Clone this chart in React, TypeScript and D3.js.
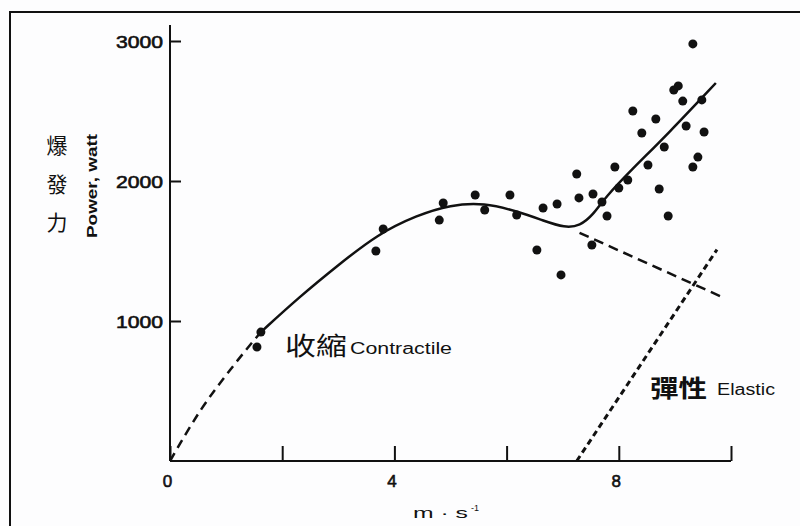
import React, { useEffect, useRef } from "react";
import * as d3 from "d3";

// speed (m/s) and power (watt)
const speedPts = [1.62, 1.55, 3.8, 3.67, 4.87, 4.8, 5.44, 5.61, 6.06, 6.18, 6.65, 6.9, 6.54, 6.97,
  7.25, 7.29, 7.54, 7.7, 7.79, 7.52, 7.93, 8.0, 8.16, 8.52, 8.72, 8.88, 8.25, 8.66, 8.41, 8.81,
  8.98, 9.06, 9.14, 9.2, 9.48, 9.52, 9.41, 9.32, 9.32];
const powerPts = [921, 814, 1657, 1500, 1843, 1721, 1900, 1793, 1900, 1757, 1807, 1836, 1507, 1329,
  2050, 1879, 1907, 1850, 1750, 1543, 2100, 1950, 2007, 2114, 1943, 1750, 2500, 2443, 2343, 2243,
  2650, 2679, 2571, 2393, 2579, 2350, 2171, 2100, 2979];

// fitted total curve (solid)
const fitSpeed = [1.62, 2.3, 3.0, 3.7, 4.4, 5.0, 5.6, 6.2, 6.65, 7.04, 7.31, 7.54, 7.75, 8.25, 8.86, 9.73];
const fitPower = [921, 1170, 1400, 1620, 1755, 1830, 1845, 1782, 1718, 1665, 1680, 1757, 1880, 2090, 2330, 2700];

// contractile component (dashed)
const contrLowSpeed = [0, 0.55, 1.1, 1.62];
const contrLowPower = [0, 365, 665, 921];
const contrHighSpeed = [7.3, 9.85];
const contrHighPower = [1630, 1170];

// elastic component (dashed)
const elasticSpeed = [7.25, 9.75];
const elasticPower = [0, 1510];

const xTicks = [0, 2, 4, 6, 8, 10];
const xTickLabels = ["0", "", "4", "", "8", ""];
const yTicks = [1000, 2000, 3000];

const sans = "Liberation Sans, Arial, sans-serif";
const cjk = "Noto Sans CJK TC, sans-serif";

function App() {
  const ref = useRef<SVGSVGElement | null>(null);

  useEffect(() => {
    const svg = d3.select(ref.current);
    svg.selectAll("*").remove();

    const x = d3.scaleLinear().domain([0, 10]).range([170, 731]);
    const y = d3.scaleLinear().domain([0, 3000]).range([461, 41]);
    const ink = "#111";

    svg.append("rect").attr("width", 800).attr("height", 526).attr("fill", "#fdfdfe");
    // frame (top and left edges)
    svg.append("path").attr("d", "M10,526 L10,12 L800,12").attr("fill", "none")
      .attr("stroke", ink).attr("stroke-width", 2);

    // y axis
    svg.append("line").attr("x1", x(0)).attr("x2", x(0)).attr("y1", 25).attr("y2", y(0))
      .attr("stroke", ink).attr("stroke-width", 2);
    const yAxis = svg.append("g")
      .attr("transform", `translate(${x(0)},0)`)
      .call(d3.axisLeft(y).tickValues(yTicks).tickSizeInner(-11).tickSizeOuter(0).tickPadding(7).tickFormat(d3.format("d")));
    yAxis.select(".domain").remove();
    yAxis.selectAll("line").attr("stroke", ink).attr("stroke-width", 2);
    yAxis.selectAll("text").attr("fill", ink).style("font-family", sans)
      .style("font-size", "17px").attr("stroke", ink).attr("stroke-width", 0.6).attr("dy", "0.36em")
      .attr("textLength", 47).attr("lengthAdjust", "spacingAndGlyphs");

    // x axis
    svg.append("line").attr("x1", x(0)).attr("x2", x(10)).attr("y1", y(0)).attr("y2", y(0))
      .attr("stroke", ink).attr("stroke-width", 2);
    const xAxis = svg.append("g")
      .attr("transform", `translate(0,${y(0)})`)
      .call(d3.axisBottom(x).tickValues(xTicks).tickSizeInner(-15).tickSizeOuter(0)
        .tickFormat((d, i) => xTickLabels[i]));
    xAxis.select(".domain").remove();
    xAxis.selectAll("line").attr("stroke", ink).attr("stroke-width", 2);
    xAxis.selectAll("text").attr("fill", ink).style("font-family", sans)
      .style("font-size", "17px").attr("stroke", ink).attr("stroke-width", 0.6)
      .attr("y", 26).attr("dy", 0).attr("dx", -3);

    // axis titles
    svg.append("text").attr("x", 413).attr("y", 518)
      .attr("fill", ink).style("font-family", sans).style("font-size", "15px")
      .attr("textLength", 55).attr("lengthAdjust", "spacingAndGlyphs").text("m · s");
    svg.append("text").attr("x", 471).attr("y", 511)
      .attr("fill", ink).style("font-family", sans).style("font-size", "9px").text("-1");

    svg.append("text").attr("transform", "translate(97,186) rotate(-90)").attr("text-anchor", "middle")
      .attr("fill", ink).style("font-family", sans).style("font-size", "14px").style("font-weight", "bold")
      .attr("textLength", 104).attr("lengthAdjust", "spacingAndGlyphs")
      .text("Power, watt");
    ["爆", "發", "力"].forEach((c, i) => {
      svg.append("text").attr("x", 57).attr("y", 153 + i * 38.5).attr("text-anchor", "middle")
        .attr("fill", ink).style("font-family", cjk).style("font-size", "21px")
        .text(c);
    });

    const mkLine = (xs: number[], ys: number[], curve: d3.CurveFactory) =>
      d3.line<number>().x((d) => x(xs[d])).y((d) => y(ys[d])).curve(curve)(d3.range(xs.length)) as string;

    // dashed contractile parts
    svg.append("path").attr("d", mkLine(contrLowSpeed, contrLowPower, d3.curveMonotoneX))
      .attr("fill", "none").attr("stroke", ink).attr("stroke-width", 2.5).attr("stroke-dasharray", "9,6");
    svg.append("path").attr("d", mkLine(contrHighSpeed, contrHighPower, d3.curveLinear))
      .attr("fill", "none").attr("stroke", ink).attr("stroke-width", 2.5).attr("stroke-dasharray", "10,6");
    // elastic
    svg.append("path").attr("d", mkLine(elasticSpeed, elasticPower, d3.curveLinear))
      .attr("fill", "none").attr("stroke", ink).attr("stroke-width", 3).attr("stroke-dasharray", "6,4");
    // fitted curve
    svg.append("path").attr("d", mkLine(fitSpeed, fitPower, d3.curveBasis))
      .attr("fill", "none").attr("stroke", ink).attr("stroke-width", 2.5);

    // data points
    svg.append("g").selectAll("circle").data(d3.range(speedPts.length)).join("circle")
      .attr("cx", (i) => x(speedPts[i])).attr("cy", (i) => y(powerPts[i])).attr("r", 4.5).attr("fill", ink);

    // component labels
    svg.append("text").attr("x", 285).attr("y", 355).attr("fill", ink)
      .style("font-family", cjk).style("font-size", "25px")
      .attr("textLength", 62).attr("lengthAdjust", "spacingAndGlyphs").text("收縮");
    svg.append("text").attr("x", 350).attr("y", 354).attr("fill", ink)
      .style("font-family", sans).style("font-size", "16px")
      .attr("textLength", 102).attr("lengthAdjust", "spacingAndGlyphs").text("Contractile");

    svg.append("text").attr("x", 650).attr("y", 397).attr("fill", ink)
      .style("font-family", cjk).style("font-size", "24px").style("font-weight", "bold")
      .attr("textLength", 57).attr("lengthAdjust", "spacingAndGlyphs").text("彈性");
    svg.append("text").attr("x", 717).attr("y", 395).attr("fill", ink)
      .style("font-family", sans).style("font-size", "16px")
      .attr("textLength", 58).attr("lengthAdjust", "spacingAndGlyphs").text("Elastic");
  }, []);

  return (
    <svg ref={ref} width={800} height={526} style={{ position: "absolute", left: 0, top: 0, display: "block" }} />
  );
}

export default App;
